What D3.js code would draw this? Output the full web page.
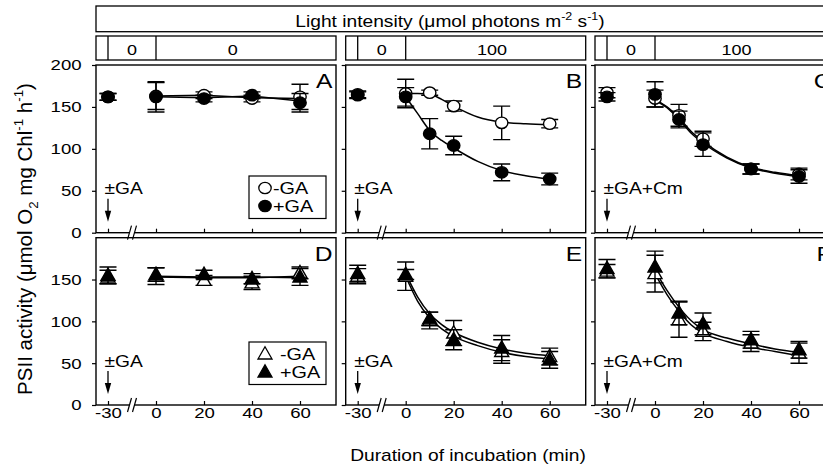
<!DOCTYPE html>
<html lang="en">
<head>
<meta charset="UTF-8">
<title>PSII activity vs incubation time</title>
<script src="https://d3js.org/d3.v7.min.js"></script>
<style>
    body { margin: 0; background: #fff; }
    svg { display: block; font-family: Arial, "Liberation Sans", sans-serif; }
</style>
</head>
<body>
<svg id="chart" width="823" height="468"></svg>
<script>
// ---- data ----
const timesAD = [-30, 0, 20, 40, 60];
const timesBCEF = [-30, 0, 10, 20, 40, 60];
const fitTimesAD = [0, 20, 40, 60];
const fitTimes = [0, 5, 10, 15, 20, 30, 40, 50, 60];

// A: dark, circles
const aOpen = [162, 163, 164, 160, 162];
const aOpenErr = [4, 16, 4, 4, 15];
const aFilled = [162, 162, 160, 164, 155];
const aFilledErr = [4, 18, 4, 4, 11];
const aOpenFit = [163, 164, 161, 160];
const aFilledFit = [162, 161, 163, 157];

// B: light, circles
const bOpen = [165, 166, 167, 151, 131, 130];
const bOpenErr = [4, 17, 3, 6, 20, 5];
const bFilled = [164, 162, 118, 104, 72, 64];
const bFilledErr = [4, 11, 18, 11, 10, 7];
const bOpenFit = [166, 166, 165, 159, 151, 138, 132, 130, 129];
const bFilledFit = [162, 142, 122, 110, 101, 85, 74, 68, 64];

// C: light + Cm, circles
const cOpen = [167, 160, 140, 112, 76, 70];
const cOpenErr = [6, 10, 13, 9, 6, 7];
const cFilled = [162, 165, 135, 105, 76, 67];
const cFilledErr = [5, 15, 10, 14, 6, 8];
const cOpenFit = [159, 150, 137, 121, 109, 90, 78, 72, 68];
const cFilledFit = [158, 149, 135, 119, 107, 89, 77, 71, 67];

// D: dark, triangles
const dOpen = [153, 154, 149, 146, 158];
const dOpenErr = [8, 10, 6, 8, 7];
const dFilled = [155, 156, 156, 151, 153];
const dFilledErr = [10, 8, 5, 6, 10];
const dOpenFit = [153, 152, 152, 154];
const dFilledFit = [154, 153, 153, 152];

// E: light, triangles
const eOpen = [154, 154, 101, 86, 64, 58];
const eOpenErr = [9, 17, 10, 15, 14, 10];
const eFilled = [157, 156, 103, 78, 68, 54];
const eFilledErr = [10, 6, 8, 12, 15, 10];
const eOpenFit = [157, 129, 109, 96, 87, 75, 67, 62, 59];
const eFilledFit = [154, 124, 104, 91, 82, 71, 63, 58, 55];

// F: light + Cm, triangles
const fOpen = [160, 157, 102, 88, 74, 62];
const fOpenErr = [8, 22, 21, 11, 10, 12];
const fFilled = [163, 165, 110, 97, 78, 66];
const fFilledErr = [11, 19, 14, 13, 10, 10];
const fOpenFit = [157, 132, 112, 96, 86, 76, 69, 64, 59];
const fFilledFit = [161, 137, 117, 101, 90, 80, 73, 67, 63];

const panelLetters = ["A", "B", "C", "D", "E", "F"];
const treatLabels = ["±GA", "±GA", "±GA+Cm", "±GA", "±GA", "±GA+Cm"];
const lightBefore = ["0", "0", "0"];
const lightAfter = ["0", "100", "100"];
const lightAfterAt = [32, 36, 34];   // minutes where the second header label sits
const yTicksTop = [0, 50, 100, 150, 200];
const yTicksBottom = [0, 50, 100, 150];
const xTicks = [-30, 0, 20, 40, 60];

// ---- layout ----
const SX = 1.2;            // the figure's text is stretched sideways
const colX = [96, 345.7, 595];
const PW = 240;
const rows = [{ top: 65, bottom: 232.7, legendTop: 176 }, { top: 237.7, bottom: 405, legendTop: 342 }];

const svg = d3.select("#chart");
svg.append("rect").attr("width", 823).attr("height", 468).attr("fill", "#fff");

function txt(g, x, y, s, size, anchor) {
    return g.append("text")
        .attr("transform", `translate(${x},${y}) scale(${SX},1)`)
        .attr("font-size", size)
        .attr("text-anchor", anchor || "start")
        .text(s);
}

// text with super/subscripts: parts = [[string, "n"|"sup"|"sub"]]
function rich(t, parts, size) {
    let shift = 0;
    parts.forEach(([s, k]) => {
        const target = k === "sup" ? -0.4 * size : k === "sub" ? 0.3 * size : 0;
        t.append("tspan")
            .attr("dy", target - shift)
            .attr("font-size", k === "n" ? size : size * 0.65)
            .text(s);
        shift = target;
    });
}

function xScale(c) {
    // broken axis: -30 sits in its own short segment before 0
    return d3.scaleLinear().domain([-37.5, -30, 0, 75]).range([c, c + 12, c + 60, c + PW]);
}
function yScale(r) {
    return d3.scaleLinear().domain([0, 200]).range([r.bottom, r.top]);
}

const circleMarker = "M-6.2,0A6.2,5.7 0 1,0 6.2,0A6.2,5.7 0 1,0 -6.2,0Z";
const triMarker = "M0,-7.3L7,5L-7,5Z";

const panels = [
    { times: timesAD, fitT: fitTimesAD, open: aOpen, openErr: aOpenErr, filled: aFilled, filledErr: aFilledErr, openFit: aOpenFit, filledFit: aFilledFit },
    { times: timesBCEF, fitT: fitTimes, open: bOpen, openErr: bOpenErr, filled: bFilled, filledErr: bFilledErr, openFit: bOpenFit, filledFit: bFilledFit },
    { times: timesBCEF, fitT: fitTimes, open: cOpen, openErr: cOpenErr, filled: cFilled, filledErr: cFilledErr, openFit: cOpenFit, filledFit: cFilledFit },
    { times: timesAD, fitT: fitTimesAD, open: dOpen, openErr: dOpenErr, filled: dFilled, filledErr: dFilledErr, openFit: dOpenFit, filledFit: dFilledFit },
    { times: timesBCEF, fitT: fitTimes, open: eOpen, openErr: eOpenErr, filled: eFilled, filledErr: eFilledErr, openFit: eOpenFit, filledFit: eFilledFit },
    { times: timesBCEF, fitT: fitTimes, open: fOpen, openErr: fOpenErr, filled: fFilled, filledErr: fFilledErr, openFit: fOpenFit, filledFit: fFilledFit }
];

// ---- header boxes ----
svg.append("rect").attr("x", 96).attr("y", 6).attr("width", 760).attr("height", 25.7)
    .attr("fill", "none").attr("stroke", "#000").attr("stroke-width", 1.3);
rich(svg.append("text").attr("transform", `translate(450,26.5) scale(${SX},1)`).attr("text-anchor", "middle"),
    [["Light intensity (μmol photons m", "n"], ["-2", "sup"], [" s", "n"], ["-1", "sup"], [")", "n"]], 16);

colX.forEach((c, i) => {
    const x = xScale(c);
    const g = svg.append("g");
    g.append("rect").attr("x", c).attr("y", 36).attr("width", PW).attr("height", 24)
        .attr("fill", "none").attr("stroke", "#000").attr("stroke-width", 1.3);
    [-30, 0].forEach(t => g.append("line").attr("x1", x(t)).attr("x2", x(t)).attr("y1", 36).attr("y2", 60)
        .attr("stroke", "#000").attr("stroke-width", 1.3));
    txt(g, (x(-30) + x(0)) / 2, 54.5, lightBefore[i], 15, "middle");
    txt(g, x(lightAfterAt[i]), 54.5, lightAfter[i], 15, "middle");
});

// ---- panels ----
panels.forEach((p, i) => {
    const r = rows[Math.floor(i / 3)];
    const col = i % 3;
    const c = colX[col];
    const x = xScale(c);
    const y = yScale(r);
    const g = svg.append("g");
    const isCircle = i < 3;

    // y axis, ticks outward
    const ya = g.append("g").attr("transform", `translate(${c},0)`)
        .call(d3.axisLeft(y).tickValues(i < 3 ? yTicksTop : yTicksBottom).tickSize(4).tickSizeOuter(0).tickPadding(8)
            .tickFormat(col === 0 ? d => String(d) : ""));
    ya.select(".domain").remove();
    ya.selectAll("line").attr("stroke-width", 1.2);
    ya.selectAll("text").attr("font-size", 15.5).attr("font-family", null)
        .attr("transform", `scale(${SX},1)`).attr("fill", "#000");

    // x axis, ticks inward
    const xa = g.append("g").attr("transform", `translate(0,${r.bottom})`)
        .call(d3.axisBottom(x).tickValues(xTicks).tickSize(-4).tickSizeOuter(0).tickPadding(2)
            .tickFormat(i >= 3 ? d => String(d) : ""));
    xa.select(".domain").remove();
    xa.selectAll("line").attr("stroke-width", 1.2);
    xa.selectAll("text").attr("font-size", 15.5).attr("font-family", null)
        .attr("transform", `scale(${SX},1)`).attr("fill", "#000");

    // frame
    g.append("rect").attr("x", c).attr("y", r.top).attr("width", PW).attr("height", r.bottom - r.top)
        .attr("fill", "none").attr("stroke", "#000").attr("stroke-width", 1.4);

    // axis break mark
    const bx = x(-15), by = r.bottom;
    g.append("path").attr("d", `M${bx - 4.5},${by + 7}L${bx - 0.5},${by - 7}L${bx + 4.5},${by - 7}L${bx + 0.5},${by + 7}Z`)
        .attr("fill", "#fff");
    [-2.5, 2.5].forEach(o => g.append("line")
        .attr("x1", bx + o - 2).attr("y1", by + 7).attr("x2", bx + o + 2).attr("y2", by - 7)
        .attr("stroke", "#000").attr("stroke-width", 1.2));

    // panel letter
    txt(g, c + 236.5, r.top + 23, panelLetters[i], 20.5, "end");

    // treatment note + arrow
    txt(g, x(-30) - 3.5, r.bottom - 38.5, treatLabels[i], 16, "start");
    g.append("line").attr("x1", x(-30)).attr("x2", x(-30)).attr("y1", r.bottom - 34).attr("y2", r.bottom - 20)
        .attr("stroke", "#000").attr("stroke-width", 1.3);
    g.append("path").attr("d", `M${x(-30) - 3.2},${r.bottom - 22}L${x(-30) + 3.2},${r.bottom - 22}L${x(-30)},${r.bottom - 11}Z`)
        .attr("fill", "#000");

    // fitted curves
    const curve = (i === 0 || i === 3) ? d3.curveLinear : d3.curveMonotoneX;
    const line = d3.line().x(d => x(d[0])).y(d => y(d[1])).curve(curve);
    [p.openFit, p.filledFit].forEach(f => g.append("path")
        .attr("d", line(p.fitT.map((t, k) => [t, f[k]])))
        .attr("fill", "none").attr("stroke", "#000").attr("stroke-width", 1.5));

    // points with error bars; open first, filled on top
    const series = [
        { v: p.open, e: p.openErr, fill: "#fff" },
        { v: p.filled, e: p.filledErr, fill: "#000" }
    ];
    series.forEach(s => {
        p.times.forEach((t, k) => {
            const px = x(t), lo = y(s.v[k] - s.e[k]), hi = y(s.v[k] + s.e[k]);
            g.append("path")
                .attr("d", `M${px},${lo}V${hi}M${px - 8.5},${lo}H${px + 8.5}M${px - 8.5},${hi}H${px + 8.5}`)
                .attr("fill", "none").attr("stroke", "#000").attr("stroke-width", 1.4);
        });
        p.times.forEach((t, k) => {
            g.append("path").attr("d", isCircle ? circleMarker : triMarker)
                .attr("transform", `translate(${x(t)},${y(s.v[k])})`)
                .attr("fill", s.fill).attr("stroke", "#000").attr("stroke-width", 1.4);
        });
    });

    // legend in the first column
    if (col === 0) {
        const lt = r.legendTop;
        g.append("rect").attr("x", c + 153).attr("y", lt).attr("width", 77).attr("height", 42.5)
            .attr("fill", "#fff").attr("stroke", "#000").attr("stroke-width", 1.2);
        [["-GA", "#fff"], ["+GA", "#000"]].forEach(([lab, fill], k) => {
            const cy = lt + 12 + k * 18;
            g.append("path").attr("d", isCircle ? circleMarker : triMarker)
                .attr("transform", `translate(${c + 169},${cy})`)
                .attr("fill", fill).attr("stroke", "#000").attr("stroke-width", 1.3);
            txt(g, c + (isCircle ? 177 : 184), cy + 5.8, lab, 16.5, "start");
        });
    }
});

// ---- axis titles ----
rich(svg.append("text").attr("transform", "translate(31.5,239) rotate(-90)").attr("text-anchor", "middle"),
    [["PSII activity (μmol O", "n"], ["2", "sub"], [" mg Chl", "n"], ["-1", "sup"], [" h", "n"], ["-1", "sup"], [")", "n"]], 20.5);
txt(svg, 468, 461, "Duration of incubation (min)", 16, "middle");
</script>
</body>
</html>
